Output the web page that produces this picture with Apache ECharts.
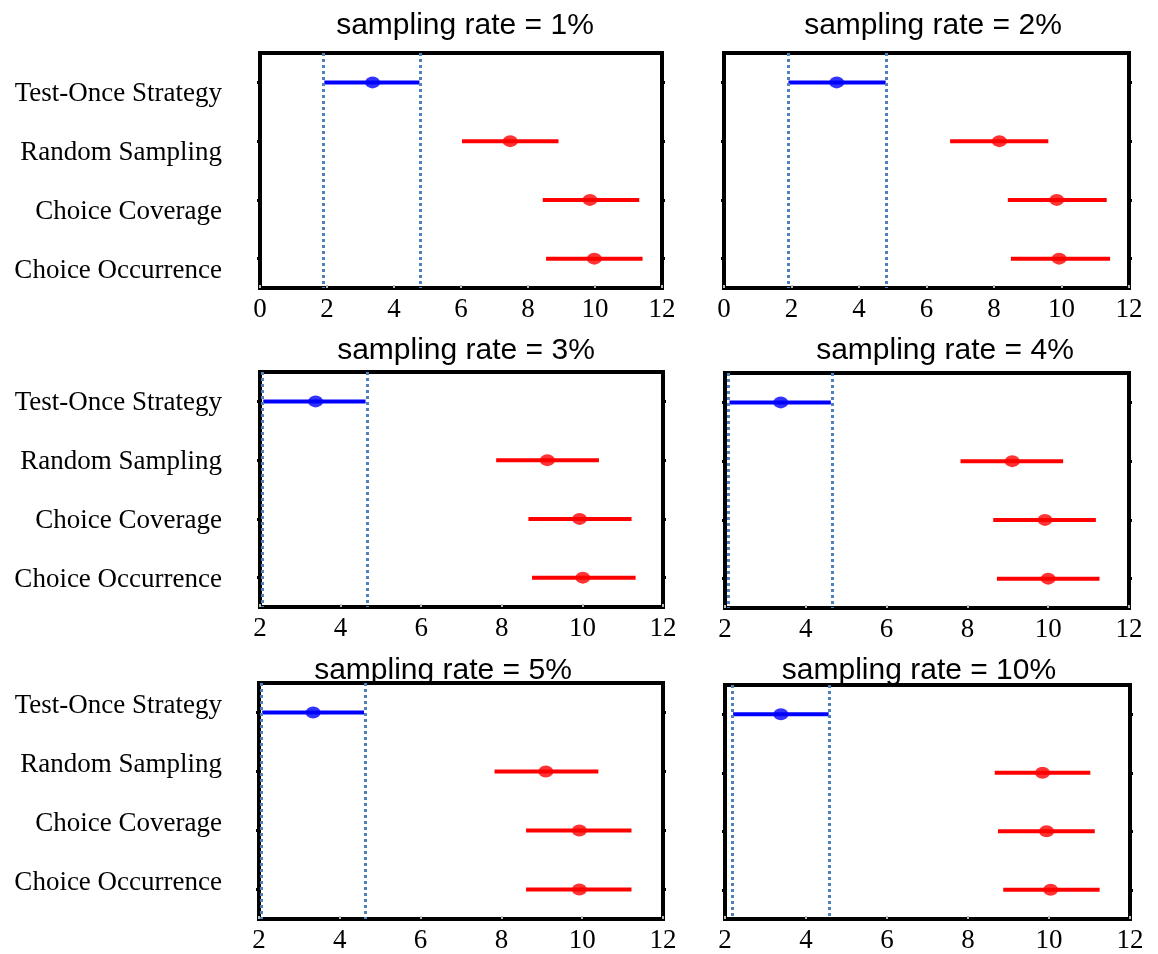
<!DOCTYPE html>
<html><head><meta charset="utf-8">
<script src="https://cdn.jsdelivr.net/npm/echarts@6/dist/echarts.min.js"></script>
<style>html,body{margin:0;padding:0;background:#fff}#c{width:1158px;height:954px}</style>
</head><body><div id="c"></div>
<script>
const categories = ['Test-Once Strategy', 'Random Sampling', 'Choice Coverage', 'Choice Occurrence'];
const panelTitles = ['sampling rate = 1%', 'sampling rate = 2%', 'sampling rate = 3%', 'sampling rate = 4%', 'sampling rate = 5%', 'sampling rate = 10%'];
const axisMins = [0, 0, 2, 2, 2, 2];
const axisMax = 12;
const axisStep = 2;
const meanValues = [
  [3.36, 7.47, 9.85, 9.98],
  [3.34, 8.16, 9.86, 9.93],
  [3.38, 9.13, 9.93, 10.01],
  [3.38, 9.11, 9.92, 10.00],
  [3.34, 9.10, 9.93, 9.93],
  [3.38, 9.84, 9.94, 10.04]
];
const lowValues = [
  [1.92, 6.03, 8.44, 8.54],
  [1.91, 6.70, 8.41, 8.50],
  [2.08, 7.86, 8.66, 8.75],
  [2.11, 7.83, 8.64, 8.73],
  [2.08, 7.83, 8.61, 8.61],
  [2.20, 8.66, 8.74, 8.87]
];
const highValues = [
  [4.76, 8.91, 11.32, 11.42],
  [4.79, 9.61, 11.34, 11.44],
  [4.62, 10.41, 11.22, 11.32],
  [4.62, 10.37, 11.18, 11.27],
  [4.60, 10.40, 11.22, 11.22],
  [4.56, 11.02, 11.13, 11.25]
];
const refLines = [[1.88, 4.78], [1.89, 4.82], [2.05, 4.65], [2.08, 4.66], [2.06, 4.63], [2.18, 4.58]];

// layout (positions / styles only)
const panels = [
  {left: 260, top: 53, width: 402, height: 235, titleX: 460, titleTop: 6, showLabels: true, labelShift: 12},
  {left: 724, top: 53, width: 405, height: 235, titleX: 928, titleTop: 6, showLabels: false, labelShift: 0},
  {left: 260, top: 372, width: 403, height: 235, titleX: 461, titleTop: 331, showLabels: true, labelShift: 2},
  {left: 725, top: 373, width: 404, height: 235, titleX: 940, titleTop: 331, showLabels: false, labelShift: 0},
  {left: 259, top: 683, width: 404, height: 236, titleX: 438, titleTop: 651, showLabels: true, labelShift: -7},
  {left: 725, top: 685, width: 405, height: 236, titleX: 914, titleTop: 651, showLabels: false, labelShift: 0}
];
const rowColors = ['#0000ff', '#ff0000', '#ff0000', '#ff0000'];
const refColor = '#4f81bd';
const serif = '"Liberation Serif", "Times New Roman", serif';
const sans = '"Liberation Sans", Arial, sans-serif';
const labelSize = 27;

const title = [], grid = [], xAxis = [], yAxis = [], series = [];
panels.forEach((p, i) => {
  title.push({
    text: panelTitles[i], left: p.titleX, top: p.titleTop, textAlign: 'center',
    textStyle: {fontFamily: sans, fontSize: 30, fontWeight: 'normal', color: '#000'}
  });
  grid.push({
    left: p.left, top: p.top, width: p.width, height: p.height,
    show: true, borderColor: '#000', borderWidth: 4, backgroundColor: 'transparent'
  });
  xAxis.push({
    type: 'value', gridIndex: i, min: axisMins[i], max: axisMax, interval: axisStep,
    axisLine: {show: false}, splitLine: {show: false},
    axisTick: {show: true, inside: true, length: 3, lineStyle: {color: '#bbb', width: 2}},
    axisLabel: {fontFamily: serif, fontSize: 27, color: '#000', margin: 8}
  });
  const gapH = 2 * Math.abs(p.labelShift);
  yAxis.push({
    type: 'category', gridIndex: i, data: categories, inverse: true,
    axisLine: {show: false}, splitLine: {show: false},
    axisTick: {show: true, alignWithLabel: true, length: 3, lineStyle: {color: '#000', width: 3}},
    axisLabel: {
      show: p.showLabels, color: '#000', margin: p.left - 222, align: 'right',
      formatter: function (v) {
        if (p.labelShift > 0) return '{g| }\n{t|' + v + '}';
        if (p.labelShift < 0) return '{t|' + v + '}\n{g| }';
        return '{t|' + v + '}';
      },
      rich: {
        t: {fontFamily: serif, fontSize: labelSize, color: '#000', lineHeight: labelSize + 2, align: 'right'},
        g: {fontSize: 2, lineHeight: gapH, align: 'right'}
      }
    }
  });
  yAxis.push({
    type: 'category', gridIndex: i, data: categories, inverse: true, position: 'right',
    axisLine: {show: false}, splitLine: {show: false},
    axisTick: {show: true, alignWithLabel: true, length: 3, lineStyle: {color: '#000', width: 3}},
    axisLabel: {show: false}
  });
  series.push({
    type: 'custom', xAxisIndex: i, yAxisIndex: 2 * i, silent: true,
    encode: {x: [1, 2], y: 0},
    data: categories.map((c, k) => [k, lowValues[i][k], highValues[i][k]]),
    renderItem: function (params, api) {
      const k = api.value(0);
      const a = api.coord([api.value(1), k]);
      const b = api.coord([api.value(2), k]);
      return {type: 'line', shape: {x1: a[0], y1: a[1], x2: b[0], y2: b[1]},
        style: {stroke: rowColors[k], lineWidth: 4}};
    },
    z: 3
  });
  series.push({
    type: 'scatter', xAxisIndex: i, yAxisIndex: 2 * i, silent: true,
    symbol: 'circle', symbolSize: [15, 12],
    data: categories.map((c, k) => ({value: [meanValues[i][k], k], itemStyle: {color: rowColors[k]}})),
    z: 4,
    markLine: {
      silent: true, symbol: 'none', label: {show: false}, animation: false,
      lineStyle: {color: refColor, type: [3, 3], width: 3},
      emphasis: {disabled: true},
      data: refLines[i].map(v => ({xAxis: v}))
    }
  });
});

const chart = echarts.init(document.getElementById('c'), null, {renderer: 'canvas'});
chart.setOption({animation: false, backgroundColor: '#fff', title, grid, xAxis, yAxis, series});
</script>
</body></html>
